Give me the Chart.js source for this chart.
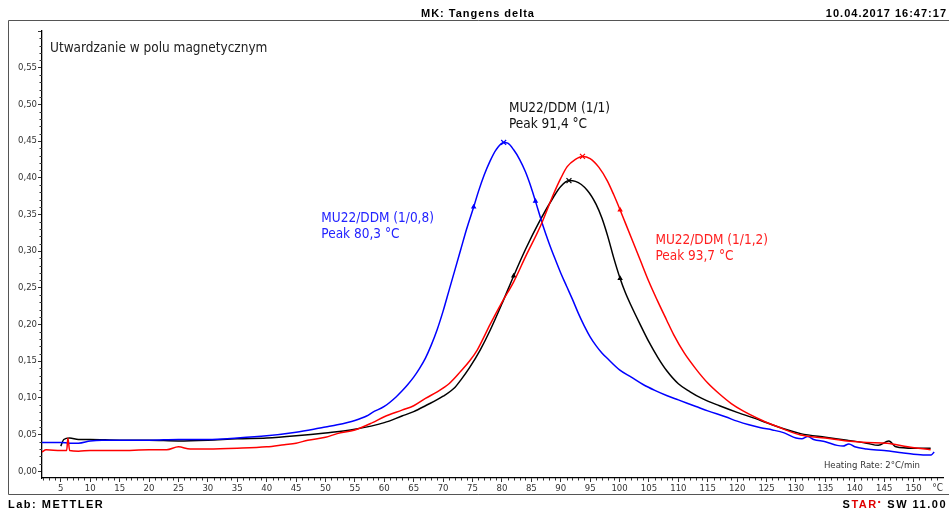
<!DOCTYPE html>
<html>
<head>
<meta charset="utf-8">
<script src="https://cdn.jsdelivr.net/npm/chart.js@4.4.1/dist/chart.umd.min.js"></script>
<style>
    html, body { margin: 0; padding: 0; background: #fff; }
    canvas { display: block; }
</style>
</head>
<body>
<canvas id="myChart" width="949" height="511"></canvas>
<script>
// MU22/DDM (1/0,8) - niebieski
let blue_t = [1.8, 3, 5, 6.5, 8, 10, 12, 15, 20, 25, 30, 35, 40, 45, 48, 50, 52, 55, 57, 58,
    60, 62, 63, 64, 65, 66, 67, 68, 69, 70, 71, 72, 73, 74, 75.2, 76, 77, 78, 79, 80.3, 81,
    82, 83, 84, 85, 85.7, 87, 88, 89, 90, 91, 92, 93, 94, 95, 96, 97, 98, 100, 102, 104,
    106, 108, 110, 113, 115, 118, 120, 122, 124, 126, 128, 130, 131, 132, 133, 135, 137, 138, 139, 140,
    142, 145, 148, 150, 152, 153, 153.5];
let blue_v = [0.039, 0.039, 0.039, 0.038, 0.038, 0.041, 0.042, 0.042, 0.042, 0.043, 0.043, 0.045, 0.048, 0.053, 0.057, 0.060, 0.063, 0.069, 0.075, 0.080,
    0.088, 0.101, 0.109, 0.118, 0.128, 0.140, 0.154, 0.172, 0.193, 0.218, 0.246, 0.274, 0.302, 0.330, 0.360, 0.381, 0.404, 0.423, 0.438, 0.448, 0.447,
    0.438, 0.425, 0.408, 0.386, 0.368, 0.334, 0.311, 0.290, 0.270, 0.252, 0.234, 0.215, 0.198, 0.183, 0.171, 0.161, 0.153, 0.138, 0.128, 0.118,
    0.110, 0.103, 0.097, 0.088, 0.082, 0.074, 0.068, 0.063, 0.059, 0.056, 0.052, 0.045, 0.044, 0.047, 0.043, 0.040, 0.035, 0.034, 0.037, 0.033,
    0.030, 0.028, 0.025, 0.023, 0.022, 0.022, 0.026];

// MU22/DDM (1/1) - czarny
let black_t = [5, 5.5, 6.5, 8, 10, 15, 20, 25, 30, 35, 40, 45, 50, 55, 60, 63, 65, 67, 70, 72,
    73, 74.5, 76.3, 78, 80, 82, 84, 86.5, 88.8, 90, 91.4, 92.5, 94.5, 96, 97, 98, 99, 100.1, 101, 102,
    103.5, 105, 106.5, 108, 110, 112, 114, 117, 120, 124, 127, 130.8, 135, 138.7, 142, 144, 145.8, 147, 150, 152.9];
let black_v = [0.034, 0.043, 0.045, 0.043, 0.043, 0.042, 0.042, 0.041, 0.042, 0.044, 0.045, 0.048, 0.052, 0.057, 0.066, 0.075, 0.081, 0.089, 0.102, 0.114,
    0.124, 0.141, 0.165, 0.192, 0.228, 0.266, 0.302, 0.342, 0.374, 0.388, 0.396, 0.395, 0.383, 0.364, 0.345, 0.320, 0.291, 0.2625, 0.243, 0.225,
    0.200, 0.176, 0.155, 0.137, 0.119, 0.108, 0.099, 0.089, 0.080, 0.069, 0.060, 0.051, 0.046, 0.042, 0.038, 0.035, 0.041, 0.033, 0.031, 0.031];

// MU22/DDM (1/1,2) - czerwony
let red_t = [1.8, 2.5, 5, 6, 6.2, 6.5, 8, 10, 15, 20, 23, 25, 27, 30, 35, 40, 43, 45, 47, 50, 52, 55, 58,
    60, 63, 65, 67, 69, 71, 73, 74.5, 75.8, 78, 80, 82, 84, 86.5, 88.8, 90, 91.1, 92.5, 93.7, 95, 96.5, 97.9, 99, 100.1,
    101, 102, 103.5, 105, 106.4, 108, 109.2, 111, 113, 115, 117, 119, 121, 124, 127, 130.8, 135, 138.7, 142, 145.5, 149,
    152.9];
let red_v = [0.026, 0.029, 0.028, 0.028, 0.045, 0.028, 0.027, 0.028, 0.028, 0.029, 0.029, 0.033, 0.030, 0.030, 0.031, 0.033, 0.036, 0.038, 0.042, 0.046, 0.051, 0.056, 0.066,
    0.074, 0.083, 0.089, 0.099, 0.108, 0.119, 0.136, 0.150, 0.165, 0.200, 0.230, 0.258, 0.292, 0.333, 0.378, 0.399, 0.415, 0.425, 0.429, 0.426, 0.414, 0.396, 0.377, 0.356,
    0.338, 0.318, 0.288, 0.258, 0.233, 0.206, 0.186, 0.161, 0.139, 0.120, 0.105, 0.092, 0.082, 0.070, 0.060, 0.049, 0.045, 0.041, 0.039, 0.038, 0.033,
    0.029];

let peaks = [80.3, 91.4, 93.7];
let blue_marks = [75.2, 85.7];
let black_marks = [82, 100.1];
let red_marks = [100.1];

let x_ticks = [];
for (let t = 5; t <= 150; t += 5) x_ticks.push(t);
let y_ticks = [0, 0.05, 0.10, 0.15, 0.20, 0.25, 0.30, 0.35, 0.40, 0.45, 0.50, 0.55, 0.60];

let etykiety = [
    { lignes: ["MU22/DDM (1/0,8)", "Peak 80,3 °C"], t: 49.3, v: 0.345, couleur: '#2323ff' },
    { lignes: ["MU22/DDM (1/1)", "Peak 91,4 °C"], t: 81.2, v: 0.494, couleur: '#111111' },
    { lignes: ["MU22/DDM (1/1,2)", "Peak 93,7 °C"], t: 106.1, v: 0.315, couleur: '#ff1f1f' }
];

const FONT_COND = '"DejaVu Sans Condensed", "DejaVu Sans", sans-serif';
const FONT_BOLD = '"Liberation Sans", Arial, sans-serif';

function points(ts, vs) {
    return ts.map((t, i) => ({ x: t, y: vs[i] }));
}

function serie(ts, vs, couleur, marks) {
    const style_point = (ctx) => {
        const t = ts[ctx.dataIndex];
        return peaks.includes(t) ? 'crossRot' : 'triangle';
    };
    const rayon = (ctx) => {
        const t = ts[ctx.dataIndex];
        if (peaks.includes(t)) return 3.5;
        if (marks.includes(t)) return 2;
        return 0;
    };
    return {
        data: points(ts, vs),
        borderColor: couleur,
        backgroundColor: couleur,
        borderWidth: 1.5,
        pointStyle: style_point,
        pointRadius: rayon,
        pointBorderWidth: 1.2,
        pointHoverRadius: 0,
        cubicInterpolationMode: 'monotone',
        fill: false
    };
}

function texte(ctx, str, x, y, font, couleur, align, espace) {
    ctx.font = font;
    ctx.fillStyle = couleur;
    ctx.textAlign = align;
    ctx.textBaseline = 'middle';
    ctx.letterSpacing = espace || '0px';
    ctx.fillText(str, x, y);
    ctx.letterSpacing = '0px';
}

const decor = {
    id: 'decor',
    afterDraw(chart) {
        const ctx = chart.ctx;
        const sx = chart.scales.x;
        const sy = chart.scales.y;
        const area = chart.chartArea;
        ctx.save();

        // cadre
        ctx.strokeStyle = '#555';
        ctx.lineWidth = 1;
        ctx.beginPath();
        ctx.moveTo(949, 20.5);
        ctx.lineTo(8.5, 20.5);
        ctx.lineTo(8.5, 494.5);
        ctx.lineTo(949, 494.5);
        ctx.stroke();

        // petites graduations
        ctx.strokeStyle = '#333';
        ctx.beginPath();
        for (let t = 2; t <= 155; t++) {
            if (t % 5 === 0) continue;
            const px = Math.round(sx.getPixelForValue(t)) + 0.5;
            ctx.moveTo(px, area.bottom);
            ctx.lineTo(px, area.bottom + 2.5);
        }
        for (let i = 1; i <= 59; i++) {
            if (i % 5 === 0) continue;
            const py = Math.round(sy.getPixelForValue(i / 100)) + 0.5;
            ctx.moveTo(area.left - 2.5, py);
            ctx.lineTo(area.left, py);
        }
        ctx.stroke();

        // en-tete et pied
        texte(ctx, 'MK: Tangens delta', 478, 14, 'bold 11px ' + FONT_BOLD, '#000', 'center', '1px');
        texte(ctx, '10.04.2017 16:47:17', 947, 14, 'bold 11px ' + FONT_BOLD, '#000', 'right', '1px');
        texte(ctx, 'Lab: METTLER', 8, 505, 'bold 11px ' + FONT_BOLD, '#000', 'left', '1.5px');

        ctx.font = 'bold 11px ' + FONT_BOLD;
        ctx.letterSpacing = '1.5px';
        const fin = ' SW 11.00';
        const w_fin = ctx.measureText(fin).width;
        const w_tar = ctx.measureText('TAR').width;
        const w_pt = 5;
        const w_s = ctx.measureText('S').width;
        let xd = 947 - w_fin;
        texte(ctx, fin, xd, 505, 'bold 11px ' + FONT_BOLD, '#000', 'left', '1.5px');
        xd -= w_pt;
        texte(ctx, '•', xd, 502, 'bold 8px ' + FONT_BOLD, '#e00000', 'left');
        xd -= w_tar;
        texte(ctx, 'TAR', xd, 505, 'bold 11px ' + FONT_BOLD, '#e00000', 'left', '1.5px');
        xd -= w_s;
        texte(ctx, 'S', xd, 505, 'bold 11px ' + FONT_BOLD, '#000', 'left', '1.5px');

        // titre et notes
        texte(ctx, 'Utwardzanie w polu magnetycznym', 50, 48, '13.5px ' + FONT_COND, '#222', 'left');
        texte(ctx, 'Heating Rate: 2°C/min', 920, 466, '9.5px ' + FONT_COND, '#333', 'right');
        texte(ctx, '°C', 943, 488, '10px ' + FONT_COND, '#333', 'right');

        etykiety.forEach((e) => {
            const px = sx.getPixelForValue(e.t);
            const py = sy.getPixelForValue(e.v);
            e.lignes.forEach((l, i) => {
                texte(ctx, l, px, py + i * 16, '13.5px ' + FONT_COND, e.couleur, 'left');
            });
        });

        ctx.restore();
    }
};

const ctx = document.getElementById('myChart');

let my_chart = new Chart(ctx, {
    type: 'line',
    data: {
        datasets: [
            serie(red_t, red_v, '#ff0000', red_marks),
            serie(blue_t, blue_v, '#0000ff', blue_marks),
            serie(black_t, black_v, '#000000', black_marks)
        ]
    },
    plugins: [decor],
    options: {
        responsive: false,
        animation: false,
        events: [],
        layout: { padding: { left: 8, top: 31, right: 6, bottom: 14 } },
        plugins: {
            legend: { display: false },
            tooltip: { enabled: false }
        },
        scales: {
            x: {
                type: 'linear',
                min: 1.8,
                max: 155,
                afterFit: (s) => { s.height = 19; },
                afterBuildTicks: (s) => { s.ticks = x_ticks.map((v) => ({ value: v })); },
                grid: { drawOnChartArea: false, drawTicks: true, tickLength: 4, color: '#333' },
                border: { display: true, color: '#000', width: 1.3 },
                ticks: {
                    autoSkip: false,
                    maxRotation: 0,
                    padding: 1,
                    color: '#333',
                    font: { family: FONT_COND, size: 9.5 }
                }
            },
            y: {
                type: 'linear',
                min: -0.0095,
                max: 0.6,
                afterFit: (s) => { s.width = 34; },
                afterBuildTicks: (s) => { s.ticks = y_ticks.map((v) => ({ value: v })); },
                grid: { drawOnChartArea: false, drawTicks: true, tickLength: 4, color: '#333' },
                border: { display: true, color: '#000', width: 1.3 },
                ticks: {
                    autoSkip: false,
                    padding: 1,
                    color: '#333',
                    font: { family: FONT_COND, size: 9.5 },
                    callback: (v) => (v > 0.58 ? '' : v.toFixed(2).replace('.', ','))
                }
            }
        }
    }
});
</script>
</body>
</html>
